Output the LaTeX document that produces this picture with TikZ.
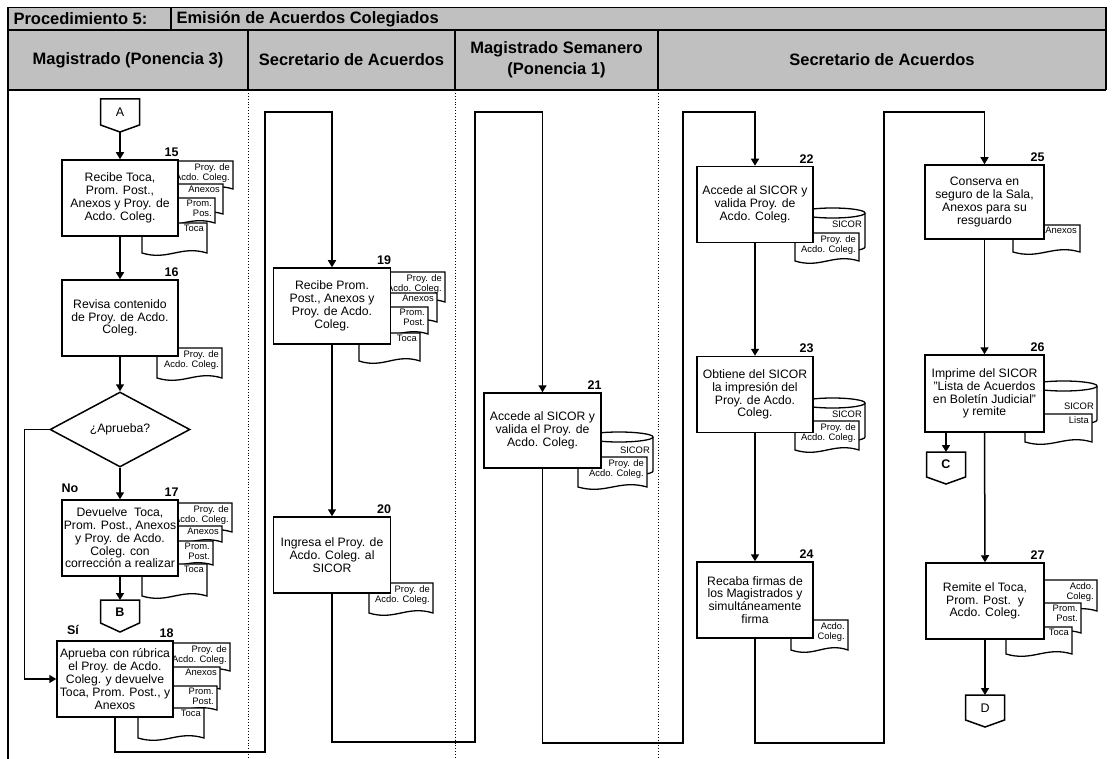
\documentclass[tikz,border=0pt]{standalone}
\usepackage{fontspec}
\setmainfont{Liberation Sans}
\usetikzlibrary{arrows.meta,shapes.geometric}
\definecolor{hdrgray}{RGB}{192,192,192}
% document symbol: name, x left, y top, width, height, text
\newcommand\dok[6]{%
  \draw[docshape] (#2,#3) -- ++(#4,0) -- ++(0,#5) .. controls +(-0.4*#4,-8) and +(0.4*#4,8) .. ++(-#4,0) -- cycle;
  \node[doctext, anchor=north east] (#1) at (#2+#4-2,#3+1) {#6};}
% database cylinder: name, x left, y top, width, height
\newcommand\cyl[5]{%
  \draw[docshape] (#2,#3+5) -- (#2,#3+#5-5) arc[start angle=180,end angle=0,x radius=#4/2,y radius=5] -- (#2+#4,#3+5) arc[start angle=0,end angle=-180,x radius=#4/2,y radius=5] -- cycle;
  \draw[docedge] (#2,#3+5) arc[start angle=180,end angle=0,x radius=#4/2,y radius=5];
  \coordinate (#1) at (#2+#4,#3+5);}
\begin{document}
\begin{tikzpicture}[x=1pt,y=-1pt,
  flow/.style={line width=1.5pt},
  arr/.style={flow,-{Triangle[length=7pt,width=8pt]}},
  proc/.style={draw,line width=1.5pt,fill=white,align=center,inner sep=1pt,font=\fontsize{12.2}{12.8}\selectfont,minimum width=116pt,minimum height=76pt},
  num/.style={font=\bfseries\fontsize{12.5}{12.5}\selectfont,anchor=south east,inner xsep=0pt,inner ysep=2.5pt},
  lbl/.style={font=\bfseries\fontsize{12.5}{12.5}\selectfont,inner sep=0pt},
  doctext/.style={font=\fontsize{9.4}{10}\selectfont,align=right,inner sep=1pt},
  docshape/.style={draw,line width=1.3pt,fill=white},
  docedge/.style={draw,line width=1.3pt},
  lanesep/.style={line width=0.9pt,dotted},
  hdr/.style={font=\bfseries\fontsize{16.5}{21}\selectfont,align=center},
  frame/.style={line width=1.5pt},
  offpage/.style={flow,fill=white},
  contxt/.style={font=\fontsize{12.5}{12.5}\selectfont,inner sep=0pt},
  decision/.style={draw,diamond,line width=1.5pt,fill=white,minimum width=140pt,minimum height=75pt,inner sep=0pt,font=\fontsize{12.2}{12.8}\selectfont},
]
\useasboundingbox (0,0) rectangle (1113,759);
% ---------- header ----------
\fill[hdrgray] (8,7.5) rectangle (1106,90);
\draw[frame] (8,759) -- (8,7.5) -- (1106,7.5) -- (1106,90);
\draw[frame] (8,30) -- (1106,30);
\draw[frame] (8,90) -- (1106,90);
\draw[frame] (171,7.5) -- (171,30);
\draw[frame] (248,30) -- (248,90);
\draw[frame] (455,30) -- (455,90);
\draw[frame] (658,30) -- (658,90);
\draw[lanesep] (248,90) -- (248,759);
\draw[lanesep] (455,90) -- (455,759);
\draw[lanesep] (658,90) -- (658,759);
\node[hdr,anchor=west] (t1) at (10,19) {Procedimiento 5:};
\node[hdr,anchor=west] (t2) at (173,19) {Emisión de Acuerdos Colegiados};
\node[hdr] (h1) at (128,60) {Magistrado (Ponencia 3)};
\node[hdr] (h2) at (351.5,60) {Secretario de Acuerdos};
\node[hdr] (h3) at (556.5,60) {Magistrado Semanero\\(Ponencia 1)};
\node[hdr] (h4) at (882,60) {Secretario de Acuerdos};

% ---------- lane 1 ----------
\draw[offpage] (100.5,99) -- (139.5,99) -- (139.5,125) -- (120,132) -- (100.5,125) -- cycle;
\node[contxt] (cA) at (120,112) {A};
\coordinate (cAtip) at (120,132);

\dok{d15a}{168}{161}{65}{28}{Proy. de\\Acdo. Coleg.}
\dok{d15b}{158}{184}{65}{30}{Anexos}
\dok{d15c}{150}{198}{65}{25}{Prom.\\Pos.}
\dok{d15d}{142}{223}{65}{30}{Toca}
\node[proc] (b15) at (120,198) {Recibe Toca,\\Prom. Post.,\\Anexos y Proy. de\\Acdo. Coleg.};
\node[num] (n15) at (b15.north east) {15};

\dok{d16}{157}{348}{65}{30}{Proy. de\\Acdo. Coleg.}
\node[proc] (b16) at (120,318) {Revisa contenido\\de Proy. de Acdo.\\Coleg.};
\node[num] (n16) at (b16.north east) {16};

\node[decision] (dec) at (120,429.5) {¿Aprueba?};

\dok{d17a}{167}{503}{65}{29}{Proy. de\\Acdo. Coleg.}
\dok{d17b}{157}{526}{65}{16}{Anexos}
\dok{d17c}{148}{541}{65}{24}{Prom.\\Post.}
\dok{d17d}{142}{564}{65}{32}{Toca}
\node[proc] (b17) at (120,538) {Devuelve\ \ Toca,\\Prom. Post., Anexos\\y Proy. de Acdo.\\Coleg. con\\corrección a realizar};
\node[num] (n17) at (b17.north east) {17};
\node[lbl] (lno) at (70,488) {No};

\draw[offpage] (100.5,600) -- (139.5,600) -- (139.5,623) -- (120,632) -- (100.5,623) -- cycle;
\node[contxt,font=\bfseries\fontsize{12.5}{12.5}\selectfont] (cB) at (120,612) {B};
\coordinate (cBtop) at (120,600);

\dok{d18a}{164}{643}{66}{28}{Proy. de\\Acdo. Coleg.}
\dok{d18b}{154}{667}{66}{22}{Anexos}
\dok{d18c}{151}{686}{66}{24}{Prom.\\Post.}
\dok{d18d}{138}{708}{66}{30}{Toca}
\node[proc] (b18) at (115,679) {Aprueba con rúbrica\\el Proy. de Acdo.\\Coleg. y devuelve\\Toca, Prom. Post., y\\Anexos};
\node[num] (n18) at (b18.north east) {18};
\node[lbl] (lsi) at (73,630) {Sí};

% ---------- lane 2 ----------
\dok{d19a}{384}{272}{61}{30}{Proy. de\\Acdo. Coleg.}
\dok{d19b}{376}{293}{61}{29}{Anexos}
\dok{d19c}{367}{307}{61}{27}{Prom.\\Post.}
\dok{d19d}{359}{333}{61}{28}{Toca}
\node[proc,minimum width=117pt] (b19) at (332,306) {Recibe Prom.\\Post., Anexos y\\Proy. de Acdo.\\Coleg.};
\node[num] (n19) at (b19.north east) {19};

\dok{d20}{369}{583}{64}{30}{Proy. de\\Acdo. Coleg.}
\node[proc,minimum width=117pt] (b20) at (332,555) {Ingresa el Proy. de\\Acdo. Coleg. al\\SICOR};
\node[num] (n20) at (b20.north east) {20};

% ---------- lane 3 ----------
\cyl{cy21}{585}{432}{68}{44}
\node[doctext,anchor=east] (s21) at (651,450) {SICOR};
\dok{d21}{578}{457}{69}{30}{Proy. de\\Acdo. Coleg.}
\node[proc,minimum width=117pt,minimum height=75pt] (b21) at (542.5,430.5) {Accede al SICOR y\\valida el Proy. de\\Acdo. Coleg.};
\node[num] (n21) at (b21.north east) {21};

% ---------- lane 4 ----------
\cyl{cy22}{800}{208}{65}{44}
\node[doctext,anchor=east] (s22) at (863,224) {SICOR};
\dok{d22}{795}{233}{64}{28}{Proy. de\\Acdo. Coleg.}
\node[proc] (b22) at (755,204.5) {Accede al SICOR y\\valida Proy. de\\Acdo. Coleg.};
\node[num] (n22) at (b22.north east) {22};

\cyl{cy23}{800}{398}{65}{44}
\node[doctext,anchor=east] (s23) at (863,414) {SICOR};
\dok{d23}{795}{421}{64}{29}{Proy. de\\Acdo. Coleg.}
\node[proc] (b23) at (755,394.5) {Obtiene del SICOR\\la impresión del\\Proy. de Acdo.\\Coleg.};
\node[num] (n23) at (b23.north east) {23};

\dok{d24}{791}{620}{57}{30}{Acdo.\\Coleg.}
\node[proc] (b24) at (755,600) {Recaba firmas de\\los Magistrados y\\simultáneamente\\firma};
\node[num] (n24) at (b24.north east) {24};

\dok{d25}{1013}{225}{67}{27}{Anexos}
\node[proc,minimum width=119pt,minimum height=74pt] (b25) at (984.5,202) {Conserva en\\seguro de la Sala,\\Anexos para su\\resguardo};
\node[num] (n25) at (b25.north east) {25};

\cyl{cy26}{1030}{381}{67}{44}
\node[doctext,anchor=east] (s26) at (1095,406) {SICOR};
\dok{d26}{1025}{414}{67}{28}{Lista}
\node[proc,minimum width=119pt,minimum height=77pt] (b26) at (984.5,393.5) {Imprime del SICOR\\"Lista de Acuerdos\\en Boletín Judicial"\\y remite};
\node[num] (n26) at (b26.north east) {26};

\draw[offpage] (926.5,452) -- (965.5,452) -- (965.5,477) -- (946,484) -- (926.5,477) -- cycle;
\node[contxt,font=\bfseries\fontsize{12.5}{12.5}\selectfont] (cC) at (946,464.5) {C};
\coordinate (cCtop) at (946,452);

\dok{d27a}{1033}{580}{64}{31}{Acdo.\\Coleg.}
\dok{d27b}{1017}{603}{64}{30}{Prom.\\Post.}
\dok{d27c}{1006}{627}{66}{27}{Toca}
\node[proc,minimum width=118pt] (b27) at (985,601) {Remite el Toca,\\Prom. Post.\ \ y\\Acdo. Coleg.};
\node[num] (n27) at (b27.north east) {27};

\draw[offpage] (965.5,695) -- (1004.5,695) -- (1004.5,720) -- (985,727) -- (965.5,720) -- cycle;
\node[contxt] (cD) at (985,708) {D};
\coordinate (cDtop) at (985,695);

% ---------- flows ----------
\draw[arr] (cAtip) -- (b15.north);
\draw[arr] (b15.south) -- (b16.north);
\draw[arr] (b16.south) -- (dec.north);
\draw[arr] (dec.south) -- (b17.north);
\draw[arr] (dec.west) -- ++(-25,0) |- (b18.west);
\draw[arr] (b17.south) -- (cBtop);
\draw[arr] (b18.south) |- (265,752) -- (265,112) -| (b19.north);
\draw[arr] (b19.south) -- (b20.north);
\draw[arr] (b20.south) |- (475,742) -- (475,112) -| (b21.north);
\draw[arr] (b21.south) |- (683,743) -- (683,112) -| (b22.north);
\draw[arr] (b22.south) -- (b23.north);
\draw[arr] (b23.south) -- (b24.north);
\draw[arr] (b24.south) |- (884,743) -- (884,112) -| (b25.north);
\draw[arr] (b25.south) -- (b26.north);
\draw[arr] (b26.south -| cCtop) -- (cCtop);
\draw[arr] (b26.south) -- (b27.north);
\draw[arr] (b27.south) -- (cDtop);
\end{tikzpicture}
\end{document}
